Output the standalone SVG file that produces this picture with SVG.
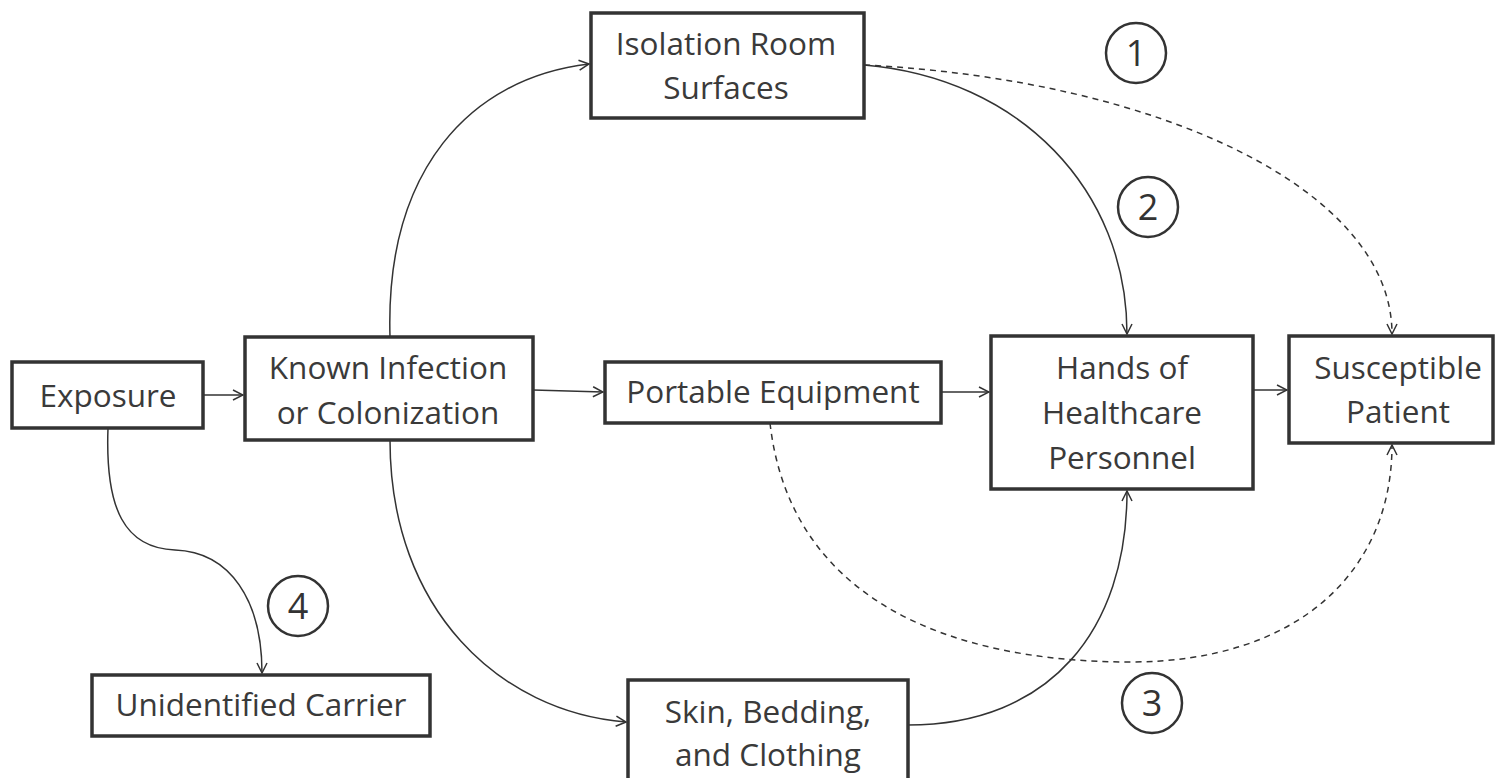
<svg xmlns="http://www.w3.org/2000/svg" width="1495" height="778" viewBox="0 0 1495 778">
<defs>
<style>
.box{fill:#fff;stroke:#333;stroke-width:3.5}
.t{font-family:"Open Sans","Noto Sans",sans-serif;font-size:31.5px;fill:#3a3a3a;text-anchor:middle}
.c{fill:none;stroke:#333;stroke-width:1.5}
.d{stroke-dasharray:6,5}
.circ{fill:none;stroke:#333;stroke-width:2.5}
.n{font-family:"Open Sans","Noto Sans",sans-serif;font-size:36px;fill:#333;text-anchor:middle}
</style>
<marker id="a" viewBox="0 0 12 12" refX="11" refY="6" markerWidth="12" markerHeight="12" markerUnits="userSpaceOnUse" orient="auto">
<path d="M1,1 L11,6 L1,11" fill="none" stroke="#333" stroke-width="1.5"/>
</marker>
</defs>
<rect width="1495" height="778" fill="#fff"/>
<g id="connectors">
<path class="c" d="M203,395 L243,395" marker-end="url(#a)"/>
<path class="c" d="M533,390 L603,392" marker-end="url(#a)"/>
<path class="c" d="M941,392 L989,392" marker-end="url(#a)"/>
<path class="c" d="M1253,390 L1287,390" marker-end="url(#a)"/>
<path class="c" d="M390,337 C385,170 470,78 589,64" marker-end="url(#a)"/>
<path class="c" d="M390,440 C390,610 500,712 626,722" marker-end="url(#a)"/>
<path class="c" d="M864,65 C1020,78 1127,190 1127,334" marker-end="url(#a)"/>
<path class="c d" d="M864,65 C1160,80 1392,190 1392,334" marker-end="url(#a)"/>
<path class="c" d="M908,725 C1050,725 1127,630 1127,491" marker-end="url(#a)"/>
<path class="c d" d="M770,423 C790,600 950,662 1130,662 C1300,662 1392,570 1392,445" marker-end="url(#a)"/>
<path class="c" d="M108,428 C105,510 125,548 175,550 C230,552 262,600 262,673" marker-end="url(#a)"/>
</g>
<g id="exposure"><rect class="box" x="12" y="362" width="191" height="66"/><text class="t" x="108" y="407">Exposure</text></g>
<g id="known"><rect class="box" x="245" y="337" width="288" height="103"/><text class="t" x="388" y="379">Known Infection</text><text class="t" x="388" y="424">or Colonization</text></g>
<g id="portable"><rect class="box" x="605" y="362" width="336" height="61"/><text class="t" x="773" y="403">Portable Equipment</text></g>
<g id="hands"><rect class="box" x="991" y="336" width="262" height="153"/><text class="t" x="1122" y="379">Hands of</text><text class="t" x="1122" y="424">Healthcare</text><text class="t" x="1122" y="469">Personnel</text></g>
<g id="patient"><rect class="box" x="1289" y="336" width="204" height="107"/><text class="t" x="1398" y="379">Susceptible</text><text class="t" x="1398" y="423">Patient</text></g>
<g id="isolation"><rect class="box" x="591" y="13" width="273" height="105"/><text class="t" x="726" y="55">Isolation Room</text><text class="t" x="726" y="99">Surfaces</text></g>
<g id="skin"><rect class="box" x="628" y="680" width="280" height="102"/><text class="t" x="768" y="723">Skin, Bedding,</text><text class="t" x="768" y="766">and Clothing</text></g>
<g id="carrier"><rect class="box" x="92" y="675" width="338" height="61"/><text class="t" x="261" y="716">Unidentified Carrier</text></g>
<g id="label1"><circle class="circ" cx="1136" cy="53" r="30"/><text class="n" x="1136" y="66">1</text></g>
<g id="label2"><circle class="circ" cx="1148" cy="207" r="30"/><text class="n" x="1148" y="220">2</text></g>
<g id="label3"><circle class="circ" cx="1152" cy="703" r="30"/><text class="n" x="1152" y="716">3</text></g>
<g id="label4"><circle class="circ" cx="298" cy="606" r="30"/><text class="n" x="298" y="619">4</text></g>
</svg>
